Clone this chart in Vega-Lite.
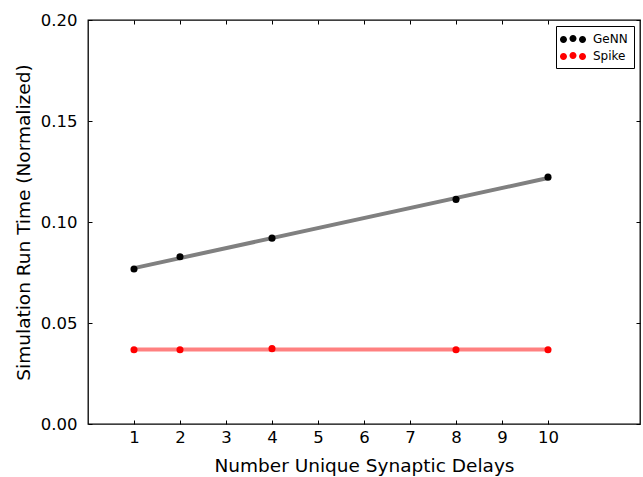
{
  "$schema": "https://vega.github.io/schema/vega-lite/v6.json",
  "width": 552,
  "height": 404,
  "autosize": {"type": "none"},
  "padding": {"left": 88, "top": 20, "right": 3, "bottom": 53},
  "background": "white",
  "config": {
    "font": "DejaVu Sans",
    "view": {"stroke": "#000", "strokeWidth": 1.3},
    "axis": {"grid": false, "domain": false, "tickColor": "#000", "labelColor": "#000", "titleColor": "#000", "labelFontSize": 16.5, "titleFontSize": 18.5, "titleFontWeight": "normal", "tickSize": -4}
  },
  "data": {
    "values": [
      {"delays": 1, "time": 0.0767, "series": "GeNN"},
      {"delays": 2, "time": 0.0828, "series": "GeNN"},
      {"delays": 4, "time": 0.0920, "series": "GeNN"},
      {"delays": 8, "time": 0.1112, "series": "GeNN"},
      {"delays": 10, "time": 0.1222, "series": "GeNN"},
      {"delays": 1, "time": 0.0368, "series": "Spike"},
      {"delays": 2, "time": 0.0368, "series": "Spike"},
      {"delays": 4, "time": 0.0373, "series": "Spike"},
      {"delays": 8, "time": 0.0368, "series": "Spike"},
      {"delays": 10, "time": 0.0368, "series": "Spike"}
    ]
  },
  "layer": [
    {
      "transform": [{"regression": "time", "on": "delays", "groupby": ["series"], "method": "linear", "extent": [1, 10]}],
      "mark": {"type": "line", "strokeWidth": 4},
      "encoding": {
        "x": {"field": "delays", "type": "quantitative", "scale": {"domain": [0, 12], "nice": false},
              "axis": {"values": [1,2,3,4,5,6,7,8,9,10], "title": "Number Unique Synaptic Delays", "labelPadding": 9, "titlePadding": 11}},
        "y": {"field": "time", "type": "quantitative", "scale": {"domain": [0, 0.2], "nice": false},
              "axis": {"values": [0, 0.05, 0.1, 0.15, 0.2], "format": ".2f", "title": "Simulation Run Time (Normalized)", "labelPadding": 15, "titlePadding": 7}},
        "color": {"field": "series", "type": "nominal", "scale": {"domain": ["GeNN", "Spike"], "range": ["#808080", "#ff8080"]}, "legend": null},
        "detail": {"field": "series"}
      }
    },
    {
      "mark": {"type": "circle", "size": 50, "opacity": 1},
      "encoding": {
        "x": {"field": "delays", "type": "quantitative",
              "axis": {"orient": "top", "values": [1,2,3,4,5,6,7,8,9,10], "labels": false, "title": null}},
        "y": {"field": "time", "type": "quantitative",
              "axis": {"orient": "right", "values": [0, 0.05, 0.1, 0.15, 0.2], "labels": false, "title": null}},
        "fill": {"field": "series", "type": "nominal", "scale": {"domain": ["GeNN", "Spike"], "range": ["#000000", "#ff0000"]},
                  "legend": {"title": null, "orient": "top-right", "offset": 6, "strokeColor": "#000", "fillColor": "white", "padding": 6, "symbolType": "M-2,0.08A0.54,0.54 0 1,0 -0.92,0.08A0.54,0.54 0 1,0 -2,0.08ZM-0.54,-0.08A0.54,0.54 0 1,0 0.54,-0.08A0.54,0.54 0 1,0 -0.54,-0.08ZM0.92,0.08A0.54,0.54 0 1,0 2,0.08A0.54,0.54 0 1,0 0.92,0.08Z", "symbolSize": 170, "symbolStrokeWidth": 0, "symbolOffset": 4, "labelFontSize": 12, "labelColor": "#000", "labelOffset": 13, "rowPadding": 4, "cornerRadius": 0}}
      }
    }
  ],
  "resolve": {"axis": {"x": "independent", "y": "independent"}, "scale": {"color": "independent"}}
}
